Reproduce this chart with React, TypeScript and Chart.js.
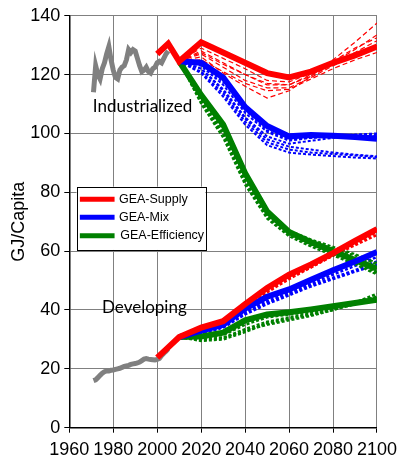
import React, { useEffect, useRef } from 'react';
import { Chart, registerables } from 'chart.js';

Chart.register(...registerables);

// ---------- data ----------
const histYears = [1971,1972,1973,1974,1975,1976,1977,1978,1979,1980,1981,1982,1983,1984,1985,1986,1987,1988,1989,1990,1991,1992,1993,1994,1995,1996,1997,1998,1999,2000,2001,2002,2003,2004,2005];
const indHistory = [114,123,120,118.5,122,124,127,129.5,125,121.5,119,118.5,121.5,122.5,123,125,128.5,127.5,128.5,128,125.5,123,121,121.5,122.5,121,120.5,122,122.5,124,124.5,124,125.5,127,128];
const devHistory = [16,16.3,17,17.8,18.5,19,19.3,19.3,19.5,19.6,19.8,20,20.2,20.5,20.8,21,21.2,21.5,21.7,21.8,22,22.3,22.8,23.3,23.5,23.3,23.2,23.1,23,23.2,23.5,24.5,25.3,26,26.8];

const supplyYears = [2000,2005,2010,2020,2030,2040,2050,2060,2070,2080,2090,2100];
const scenYears = [2010,2020,2030,2040,2050,2060,2070,2080,2090,2100];

const indSupply = [127,130.5,124.5,131,127.5,124,120.5,119,121,124,126.5,129.5];
const indMix = [124.5,124,119,109,102.5,99,99.5,99.2,98.8,98.2];
const indEfficiency = [124.5,113,103,86.5,73.5,66.5,63,60,57,54];

const devSupply = [23.8,27.3,30.8,34,36.2,42,47.5,52,55.5,59.3,63.5,67.5];
const devMix = [30.8,33,35,40.5,44.5,47,50.3,53.5,56.5,59.7];
const devEfficiency = [30.8,31,32.3,36.5,38.5,39.2,40.2,41.3,42.4,43.5];

const indSupplyVariants = [
  [124.5,129,125.5,122,118,117.5,120.5,124,128.5,133.5],
  [124.5,128,124,120,116.5,116.5,119.5,123.5,127.5,131.5],
  [124.5,127,122.5,118,115.5,115.5,119,123,126.5,130],
  [124.5,126,120.5,116,112,114.5,119.5,125,131,137.5],
  [124.5,125,121,117,114.5,115,118.5,122,125,127.5],
  [124.5,127.5,123.5,120,117,116.5,120,124.5,129,132.5],
];
const indMixVariants = [
  [124.5,123,116.5,107,100.5,97.5,98.5,99,99.5,99.5],
  [124.5,122,115,105.5,99,96.5,97.5,98.5,99,99],
  [124.5,121,113.5,104,97,94.5,93.5,93,92.5,92],
  [124.5,122,114.5,105,98,95.5,94.5,93.5,92.8,92.2],
  [124.5,120.5,112.5,103,96,93.5,92.8,92.3,91.8,91.5],
  [124.5,123.5,117.5,108,101,98,98.5,99.2,99.6,100],
];
const indEfficiencyVariants = [
  [124.5,111.5,101,85,72.5,66,62.5,59.5,56.5,53],
  [124.5,110.5,99.5,83.5,71.5,65.5,62,59,56,52.5],
  [124.5,112,102,86,73,67,64,61.5,59,56],
  [124.5,110,98.5,82.5,71,65,61.5,58.5,55.5,52],
  [124.5,111,100,84,72,66.5,63.5,61,58.5,55.5],
];
const devSupplyVariants = [
  [30.8,33.5,35.5,41,46.5,51,54.5,58.5,62.5,66.5],
  [30.8,33,35,40.5,46,50.5,54.5,58.5,63,67.5],
  [30.8,33.8,36,41.5,47,51.5,55,58.5,62,65.5],
];
const devMixVariants = [
  [30.8,32.5,34.5,39.5,43,46,49,52,55,58],
  [30.8,32,34,38.5,42,45,48,50.5,53,55.5],
  [30.8,32.3,34.2,39,42.5,45.5,48.5,51,53.5,56.5],
  [30.8,32.8,35,40,44,47,50,53,56,59.5],
];
const devEfficiencyVariants = [
  [30.8,30,30.5,33.5,36,37.5,39,40.5,42,44],
  [30.8,29.5,30,32.5,35.5,37,38.5,40,42.5,45.5],
  [30.8,30.5,31.5,35,37.5,38.5,39.5,41,42.5,44.5],
  [30.8,29.8,30.5,33,35,36.5,38,40,42,44.5],
];

const legendLabels = ['GEA-Supply', 'GEA-Mix', 'GEA-Efficiency'];
const regionLabels = ['Industrialized', 'Developing'];
const yTitle = 'GJ/Capita';

// ---------- styles ----------
const RED = '#ff0000';
const BLUE = '#0000ff';
const GREEN = '#008000';
const GRAY = '#808080';

const pts = (xs: number[], ys: number[]) => ys.map((v, i) => ({ x: xs[i], y: v }));

const mainLine = (label: string, xs: number[], ys: number[], color: string, width = 6) => ({
  label, data: pts(xs, ys), borderColor: color, backgroundColor: color,
  borderWidth: width, pointRadius: 0, tension: 0, fill: false,
});
const dashLine = (xs: number[], ys: number[], color: string, width: number, dash: number[]) => ({
  label: '', data: pts(xs, ys), borderColor: color, backgroundColor: color,
  borderWidth: width, borderDash: dash, pointRadius: 0, tension: 0, fill: false,
});

const overlayPlugin = {
  id: 'overlay',
  afterDatasetsDraw(chart: any) {
    const { ctx } = chart;
    const xs = chart.scales.x;
    const ys = chart.scales.y;
    ctx.save();
    // region labels
    ctx.fillStyle = '#000';
    ctx.textAlign = 'left';
    ctx.textBaseline = 'middle';
    ctx.font = '17px Lato, "Open Sans", sans-serif';
    ctx.fillText(regionLabels[0], xs.getPixelForValue(1970.7), ys.getPixelForValue(109));
    ctx.fillText(regionLabels[1], xs.getPixelForValue(1974.9), ys.getPixelForValue(40.7));

    // legend box
    const l = xs.getPixelForValue(1963.3);
    const r = xs.getPixelForValue(2021.9);
    const t = ys.getPixelForValue(81.9);
    const b = ys.getPixelForValue(60.4);
    ctx.fillStyle = '#fff';
    ctx.fillRect(l, t, r - l, b - t);
    ctx.strokeStyle = '#000';
    ctx.lineWidth = 1;
    ctx.strokeRect(Math.round(l) + 0.5, Math.round(t) + 0.5, Math.round(r - l), Math.round(b - t));
    const colors = [RED, BLUE, GREEN];
    const rows = [77.6, 71.5, 65.2];
    ctx.font = '12.5px "Liberation Sans", Arial, sans-serif';
    rows.forEach((v, i) => {
      const yy = ys.getPixelForValue(v);
      ctx.strokeStyle = colors[i];
      ctx.lineWidth = 5;
      ctx.beginPath();
      ctx.moveTo(xs.getPixelForValue(1964.8), yy);
      ctx.lineTo(xs.getPixelForValue(1980.6), yy);
      ctx.stroke();
      ctx.fillStyle = '#000';
      ctx.fillText(legendLabels[i], xs.getPixelForValue(i === 2 ? 1983.2 : 1982.6), yy);
    });
    ctx.restore();
  },
};

export default function App() {
  const ref = useRef<HTMLCanvasElement | null>(null);
  useEffect(() => {
    if (!ref.current) return;
    const datasets: any[] = [
      mainLine('GEA-Supply', supplyYears, indSupply, RED),
      mainLine('GEA-Supply dev', supplyYears, devSupply, RED),
      mainLine('GEA-Mix', scenYears, indMix, BLUE),
      mainLine('GEA-Mix dev', scenYears, devMix, BLUE),
      mainLine('GEA-Efficiency', scenYears, indEfficiency, GREEN),
      mainLine('GEA-Efficiency dev', scenYears, devEfficiency, GREEN),
      mainLine('History ind', histYears, indHistory, GRAY, 5),
      mainLine('History dev', histYears, devHistory, GRAY, 5),
      ...indSupplyVariants.map((v) => dashLine(scenYears, v, RED, 1.2, [5, 3])),
      ...indMixVariants.map((v) => dashLine(scenYears, v, BLUE, 2, [3, 2])),
      ...indEfficiencyVariants.map((v) => dashLine(scenYears, v, GREEN, 2, [3, 2])),
      ...devSupplyVariants.map((v) => dashLine(scenYears, v, RED, 2.5, [3, 2])),
      ...devMixVariants.map((v) => dashLine(scenYears, v, BLUE, 2.5, [3, 2])),
      ...devEfficiencyVariants.map((v) => dashLine(scenYears, v, GREEN, 2.5, [3, 2])),
    ];
    const chart = new Chart(ref.current, {
      type: 'line',
      data: { datasets },
      options: {
        animation: false,
        responsive: false,
        devicePixelRatio: 1,
        layout: { padding: { top: 15.7, right: 24, left: 0, bottom: 0 } },
        plugins: { legend: { display: false }, tooltip: { enabled: false } },
        scales: {
          x: {
            type: 'linear',
            min: 1960,
            max: 2100,
            afterFit: (s: any) => { s.height = 37.3; },
            ticks: {
              stepSize: 20,
              autoSkip: false,
              maxRotation: 0,
              color: '#000',
              padding: 7,
              callback: (v: any) => String(v),
              font: { family: '"Liberation Sans", Arial', size: 18 },
            },
            grid: { color: '#808080', lineWidth: 1, tickColor: '#000', tickLength: 5 },
            border: { color: '#000', width: 1.5 },
          },
          y: {
            type: 'linear',
            min: 0,
            max: 140,
            afterFit: (s: any) => { s.width = 69.3; },
            ticks: {
              stepSize: 20,
              color: '#000',
              padding: 4,
              font: { family: '"Liberation Sans", Arial', size: 18 },
            },
            title: {
              display: true,
              text: yTitle,
              color: '#000',
              font: { family: '"Liberation Sans", Arial', size: 18 },
              padding: { top: 8, bottom: 0 },
            },
            grid: { color: '#808080', lineWidth: 1, tickColor: '#000', tickLength: 5 },
            border: { color: '#000', width: 1.5 },
          },
        },
      },
      plugins: [overlayPlugin],
    });
    return () => chart.destroy();
  }, []);
  return (
    <div style={{ position: 'fixed', left: 0, top: 0, width: 404, height: 465, background: '#fff' }}>
      <canvas ref={ref} width={404} height={465} />
    </div>
  );
}
